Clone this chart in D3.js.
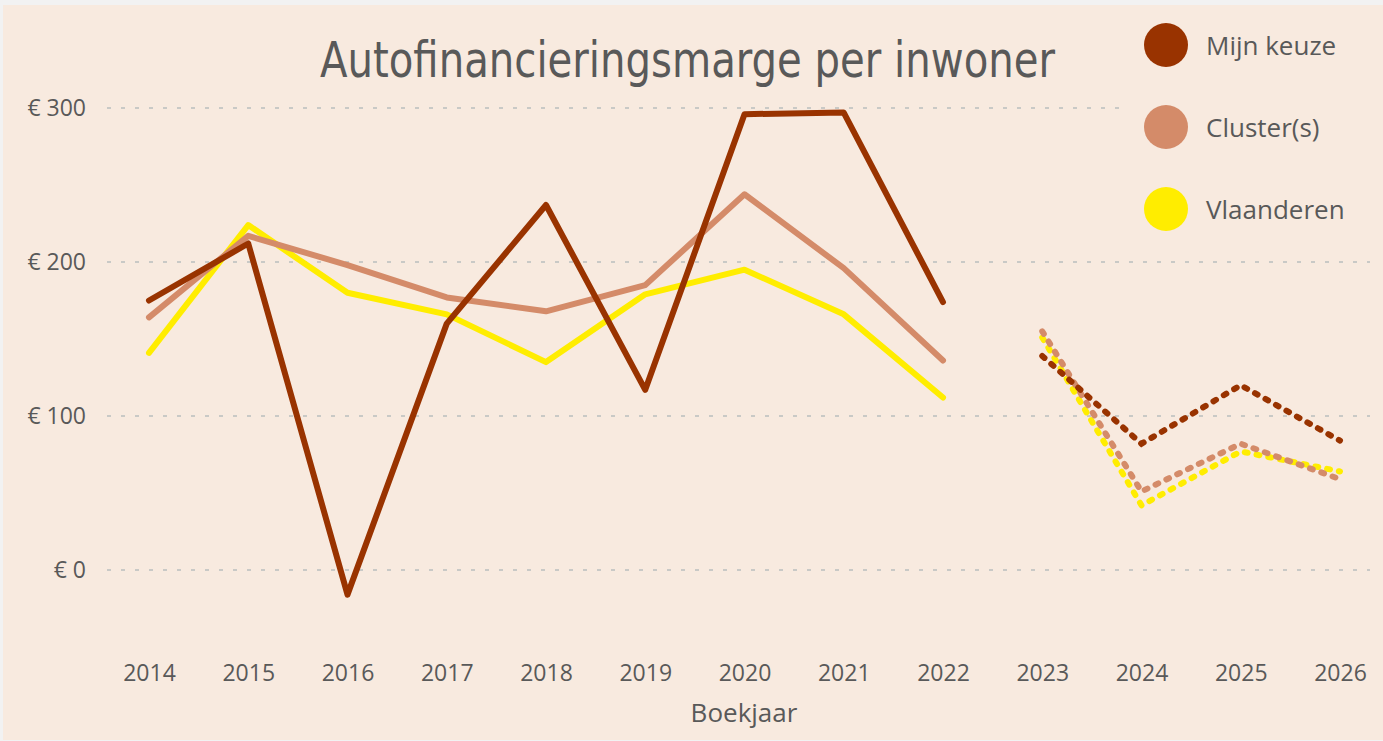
<!DOCTYPE html>
<html>
<head>
<meta charset="utf-8">
<script src="https://cdn.jsdelivr.net/npm/d3@7"></script>
<style>
  html, body { margin: 0; padding: 0; background: #f2f2f2; }
  svg { display: block; }
</style>
</head>
<body>
<svg id="chart" width="1383" height="741"></svg>
<script>
// Chart data
const years = ['2014', '2015', '2016', '2017', '2018', '2019', '2020', '2021', '2022', '2023', '2024', '2025', '2026'];
const forecastStart = '2023'; // from this year on, values are drawn dotted
const mijnKeuze = [175, 212, -16, 160, 237, 117, 296, 297, 174, 139, 82, 120, 84];
const clusters = [164, 217, 198, 177, 168, 185, 244, 196, 136, 155, 51, 82, 59];
const vlaanderen = [141, 224, 180, 166, 135, 179, 195, 166, 112, 151, 42, 77, 64];
const yTicks = [0, 100, 200, 300];
const seriesNames = ['Mijn keuze', 'Cluster(s)', 'Vlaanderen'];
const seriesColors = ['#993300', '#d48b69', '#ffed00'];

const width = 1383, height = 741;
const labelFont = '"Open Sans", "Noto Sans", sans-serif';
const svg = d3.select('#chart');

// Panel background (thin grey frame at top/left like the screenshot)
svg.append('rect')
  .attr('x', 3).attr('y', 5)
  .attr('width', width - 3).attr('height', height - 6)
  .attr('fill', '#f8eadf');

// Scales
const xScale = d3.scalePoint()
  .domain(years)
  .range([149, 1340]);

const yScale = d3.scaleLinear()
  .domain([0, 300])
  .range([570, 108]);

// Grid lines
const grid = svg.append('g').attr('class', 'grid');
grid.selectAll('line')
  .data(yTicks)
  .enter()
  .append('line')
  .attr('x1', 107)
  .attr('x2', d => d === 300 ? 1128 : 1370)
  .attr('y1', d => yScale(d))
  .attr('y2', d => yScale(d))
  .attr('stroke', '#c9c9c6')
  .attr('stroke-width', 2)
  .attr('stroke-dasharray', '4 10');

// Y axis
const yAxis = svg.append('g')
  .attr('class', 'axis y-axis')
  .attr('transform', 'translate(86,0)')
  .call(d3.axisLeft(yScale).tickValues(yTicks).tickSize(0).tickPadding(0)
    .tickFormat(d => '€ ' + d));
yAxis.select('.domain').remove();
yAxis.selectAll('text')
  .attr('font-family', labelFont)
  .attr('font-size', 23)
  .attr('fill', '#595959');

// X axis
const xAxis = svg.append('g')
  .attr('class', 'axis x-axis')
  .attr('transform', 'translate(0,665)')
  .call(d3.axisBottom(xScale).tickSize(0).tickPadding(0));
xAxis.select('.domain').remove();
xAxis.selectAll('text')
  .attr('font-family', labelFont)
  .attr('font-size', 23)
  .attr('fill', '#595959');

svg.append('text')
  .attr('x', 744)
  .attr('y', 722)
  .attr('text-anchor', 'middle')
  .attr('font-family', labelFont)
  .attr('font-size', 26)
  .attr('fill', '#595959')
  .text('Boekjaar');

// Title
svg.append('text')
  .attr('x', 320)
  .attr('y', 77)
  .attr('font-family', '"DejaVu Sans", sans-serif')
  .attr('font-stretch', 'condensed')
  .attr('font-size', 50)
  .attr('textLength', 735)
  .attr('lengthAdjust', 'spacingAndGlyphs')
  .attr('fill', '#595959')
  .text('Autofinancieringsmarge per inwoner');

// Lines
const seriesValues = [mijnKeuze, clusters, vlaanderen];
const splitIndex = years.indexOf(forecastStart);

const line = d3.line()
  .x(d => xScale(d.year))
  .y(d => yScale(d.value));

const linesGroup = svg.append('g').attr('class', 'lines');

// draw from last to first so "Mijn keuze" sits on top where lines cross
[2, 1, 0].forEach(s => {
  const pts = years.map((y, i) => ({ year: y, value: seriesValues[s][i] }));
  const actual = pts.slice(0, splitIndex);
  const forecast = pts.slice(splitIndex);

  linesGroup.append('path')
    .datum(actual)
    .attr('class', 'line')
    .attr('d', line)
    .attr('fill', 'none')
    .attr('stroke', seriesColors[s])
    .attr('stroke-width', 6)
    .attr('stroke-linejoin', 'round')
    .attr('stroke-linecap', 'round');

  linesGroup.append('path')
    .datum(forecast)
    .attr('class', 'line forecast')
    .attr('d', line)
    .attr('fill', 'none')
    .attr('stroke', seriesColors[s])
    .attr('stroke-width', 6)
    .attr('stroke-linecap', 'round')
    .attr('stroke-dasharray', '3 9');
});

// Legend
const legend = svg.append('g').attr('class', 'legend');
const legendItems = legend.selectAll('g')
  .data(seriesNames)
  .enter()
  .append('g')
  .attr('transform', (d, i) => `translate(1166,${45 + i * 82})`);

legendItems.append('circle')
  .attr('r', 22)
  .attr('fill', (d, i) => seriesColors[i]);

legendItems.append('text')
  .attr('x', 40)
  .attr('y', 10)
  .attr('font-family', labelFont)
  .attr('font-size', 26)
  .attr('fill', '#595959')
  .text(d => d);
</script>
</body>
</html>
